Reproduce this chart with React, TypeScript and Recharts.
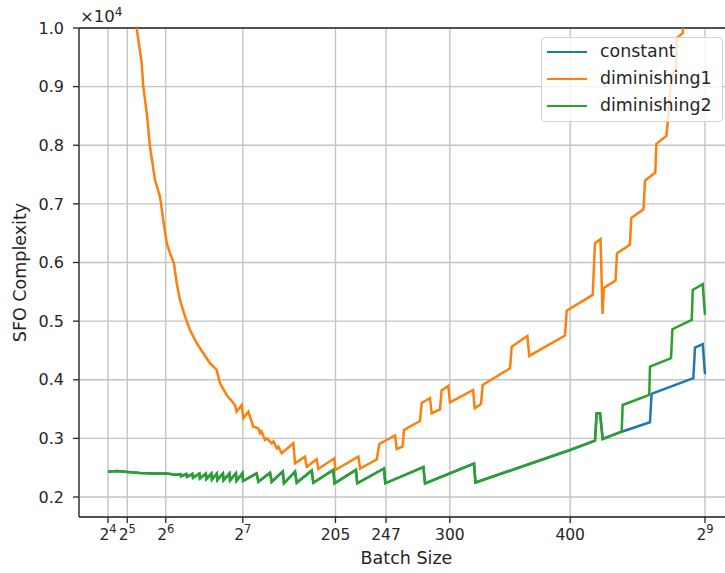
import {
  CartesianGrid,
  Legend,
  Line,
  LineChart,
  ReferenceLine,
  XAxis,
  YAxis,
} from "recharts";

const FONT = "DejaVu Sans, sans-serif";
const INK = "#262626";

const X_TICKS = [16, 32, 64, 128, 205, 247, 300, 400, 512];
const X_TICK_BASE = ["2", "2", "2", "2", "205", "247", "300", "400", "2"];
const X_TICK_EXP = ["4", "5", "6", "7", "", "", "", "", "9"];
const Y_TICKS = [2000, 3000, 4000, 5000, 6000, 7000, 8000, 9000, 10000];

// batch size, SFO complexity: constant and diminishing2 coincide up to ~443
const SHARED_PTS: [number, number][] = [
  [16, 2432], [23.5, 2444], [30, 2432], [42.6, 2410], [55, 2400], [64.8, 2401], [72, 2380],
  [76.2, 2390], [76.7, 2355], [81.1, 2392], [81.6, 2345], [86.1, 2395], [86.6, 2330],
  [91.9, 2398], [92.4, 2318], [97.3, 2398], [97.8, 2308], [101.9, 2400], [102.4, 2300],
  [106.4, 2400], [106.9, 2292], [111.5, 2402], [112.0, 2288], [116.9, 2402], [117.4, 2283],
  [122.3, 2404], [122.8, 2278], [127.7, 2404], [128.2, 2272],
  [139.5, 2404], [140.9, 2261], [150.6, 2415], [152.0, 2261], [161.2, 2432], [162.2, 2234],
  [171.4, 2432], [172.8, 2244], [185.2, 2449], [186.6, 2244], [203.2, 2461], [204.2, 2234],
  [222.0, 2461], [223.1, 2234], [245.3, 2486], [246.4, 2234], [278.0, 2512], [279.4, 2230],
  [320.1, 2572], [321.3, 2247], [399.9, 2802], [420.6, 2961], [422.0, 3428], [424.8, 3428],
  [427.0, 2990], [442.8, 3114],
];
const CONSTANT_TAIL: [number, number][] = [
  [466.3, 3275], [467.6, 3758], [502.3, 4026], [503.7, 4548], [510.1, 4606], [512, 4094],
];
const DIM2_TAIL: [number, number][] = [
  [443.6, 3570], [465.7, 3741], [466.3, 4224], [483.8, 4367], [484.9, 4862],
  [501.0, 5020], [501.8, 5532], [510.1, 5630], [512, 5106],
];
const DIM1_PTS: [number, number][] = [
  [38.5, 10250], [39.8, 10000], [44.0, 9401], [45.3, 9002], [48.2, 8548], [50.9, 7978],
  [55.0, 7410], [59.2, 7125], [61.9, 6727], [64.8, 6329], [67.5, 6159], [70.8, 5988],
  [73.1, 5647], [75.8, 5362], [80.0, 5077], [84.1, 4850], [89.7, 4623], [95.2, 4452],
  [100.7, 4282], [106.3, 4167], [109.1, 3940], [114.6, 3741], [121.5, 3570], [122.9, 3456],
  [127.1, 3570], [128.4, 3343], [132.6, 3456], [136.7, 3200], [140.9, 3172], [142.3, 3087],
  [143.5, 3120], [146.4, 2973], [148.0, 3000], [152.0, 2916], [153.5, 2950], [156.2, 2831],
  [157.5, 2860], [160.3, 2746], [170.0, 2916], [171.4, 2575], [179.7, 2688], [181.1, 2517],
  [189.4, 2643], [190.7, 2478], [204.0, 2660], [205.0, 2461], [224.0, 2691], [225.4, 2486],
  [239.3, 2640], [241.4, 2904], [254.5, 3049], [255.9, 2819], [260.7, 2858], [261.9, 3143],
  [275.2, 3297], [276.6, 3604], [283.5, 3689], [284.9, 3425], [291.8, 3493], [293.2, 3817],
  [298.7, 3894], [300.1, 3613], [319.3, 3826], [320.7, 3514], [325.9, 3587], [327.3, 3911],
  [350.0, 4196], [351.4, 4565], [364.4, 4747], [366.0, 4406], [395.7, 4753], [397.1, 5179],
  [418.7, 5447], [420.6, 6329], [425.2, 6398], [426.9, 5123], [428.0, 5567], [437.7, 5691],
  [438.9, 6159], [449.6, 6300], [450.8, 6761], [460.9, 6906], [462.2, 7398], [470.7, 7534],
  [471.6, 8024], [479.9, 8160], [480.7, 8319], [484.4, 9201], [487.9, 9287], [488.5, 9828],
  [493.5, 9913], [494.2, 10200],
];

const SERIES = [
  { name: "constant", color: "#1f77b4" },
  { name: "diminishing1", color: "#ff7f0e" },
  { name: "diminishing2", color: "#2ca02c" },
];

const rows = (pts: [number, number][]) => pts.map(([b, v]) => ({ b, v }));
const constantRows = rows([...SHARED_PTS, ...CONSTANT_TAIL]);
const dim1Rows = rows(DIM1_PTS);
const dim2Rows = rows([...SHARED_PTS, ...DIM2_TAIL]);

function XTick({ x, y, payload }: any) {
  const i = X_TICKS.indexOf(payload.value);
  const exp = X_TICK_EXP[i];
  return (
    <text x={x} y={y} dy="0.71em" textAnchor="middle" fill={INK} fontSize={15.5} fontFamily={FONT}>
      {X_TICK_BASE[i] ?? payload.value}
      {exp ? (
        <tspan dy={-7} fontSize={11.5}>
          {exp}
        </tspan>
      ) : null}
    </text>
  );
}

function XLabel({ viewBox }: any) {
  const cx = viewBox ? viewBox.x + viewBox.width / 2 : 407;
  const y = viewBox ? viewBox.y + 47 : 564;
  return (
    <text x={cx} y={y} textAnchor="middle" fill={INK} fontSize={17.5} fontFamily={FONT}>
      Batch Size
    </text>
  );
}

function YLabel({ viewBox }: any) {
  const cy = viewBox ? viewBox.y + viewBox.height / 2 : 272;
  return (
    <text
      x={20}
      y={cy}
      transform={`rotate(-90 20 ${cy})`}
      textAnchor="middle"
      dominantBaseline="central"
      fill={INK}
      fontSize={17.5}
      fontFamily={FONT}
    >
      SFO Complexity
    </text>
  );
}

function Times10({ viewBox }: any) {
  const x = viewBox ? viewBox.x + 1 : 80;
  const y = viewBox ? viewBox.y - 6 : 22;
  return (
    <text x={x} y={y} fill={INK} fontSize={16.5} fontFamily={FONT}>
      ×10
      <tspan dy={-6} fontSize={12}>
        4
      </tspan>
    </text>
  );
}

function LegendBox() {
  return (
    <div
      style={{
        boxSizing: "border-box",
        width: 182,
        height: 85,
        border: "1px solid #d4d4d4",
        borderRadius: 4,
        background: "rgba(255,255,255,0.8)",
        padding: "0 0 0 5px",
        fontFamily: FONT,
      }}
    >
      {SERIES.map((s) => (
        <div key={s.name} style={{ display: "flex", alignItems: "center", height: 27 }}>
          <span style={{ width: 40, height: 0, borderTop: `2.5px solid ${s.color}`, marginRight: 13 }} />
          <span style={{ fontSize: 17.4, color: INK, lineHeight: "17px" }}>{s.name}</span>
        </div>
      ))}
    </div>
  );
}

export default function App() {
  return (
    <div
      style={{
        position: "absolute",
        left: 0,
        top: 0,
        width: 725,
        height: 573,
        overflow: "hidden",
        background: "#fff",
        fontFamily: FONT,
      }}
    >
      <LineChart width={745} height={573} margin={{ top: 28, right: 11, bottom: 0, left: 0 }}>
        <CartesianGrid stroke="#c4c4c4" strokeWidth={1.4} />
        <XAxis
          dataKey="b"
          type="number"
          domain={[-8.1, 536.1]}
          ticks={X_TICKS}
          interval={0}
          allowDataOverflow
          height={56}
          tickSize={6}
          tickMargin={6}
          axisLine={{ stroke: INK, strokeWidth: 1.3 }}
          tickLine={{ stroke: INK, strokeWidth: 1.3 }}
          tick={<XTick />}
          label={<XLabel />}
        />
        <YAxis
          type="number"
          domain={[1659, 10000]}
          ticks={Y_TICKS}
          interval={0}
          allowDataOverflow
          width={79}
          tickSize={6}
          tickMargin={9}
          axisLine={{ stroke: INK, strokeWidth: 1.3 }}
          tickLine={{ stroke: INK, strokeWidth: 1.3 }}
          tick={{ fill: INK, fontSize: 16, fontFamily: FONT }}
          tickFormatter={(v: number) => (v / 10000).toFixed(1)}
          label={<YLabel />}
        />
        <ReferenceLine y={10000} stroke={INK} strokeWidth={1.3} label={<Times10 />} />
        <Line
          data={constantRows}
          dataKey="v"
          name="constant"
          type="linear"
          stroke={SERIES[0].color}
          strokeWidth={2.5}
          dot={false}
          isAnimationActive={false}
        />
        <Line
          data={dim1Rows}
          dataKey="v"
          name="diminishing1"
          type="linear"
          stroke={SERIES[1].color}
          strokeWidth={2.5}
          dot={false}
          isAnimationActive={false}
        />
        <Line
          data={dim2Rows}
          dataKey="v"
          name="diminishing2"
          type="linear"
          stroke={SERIES[2].color}
          strokeWidth={2.5}
          dot={false}
          isAnimationActive={false}
        />
        <Legend
          layout="vertical"
          align="center"
          verticalAlign="middle"
          content={() => <LegendBox />}
          wrapperStyle={{ top: 37, left: 541, width: 182, height: 85 }}
        />
      </LineChart>
    </div>
  );
}
